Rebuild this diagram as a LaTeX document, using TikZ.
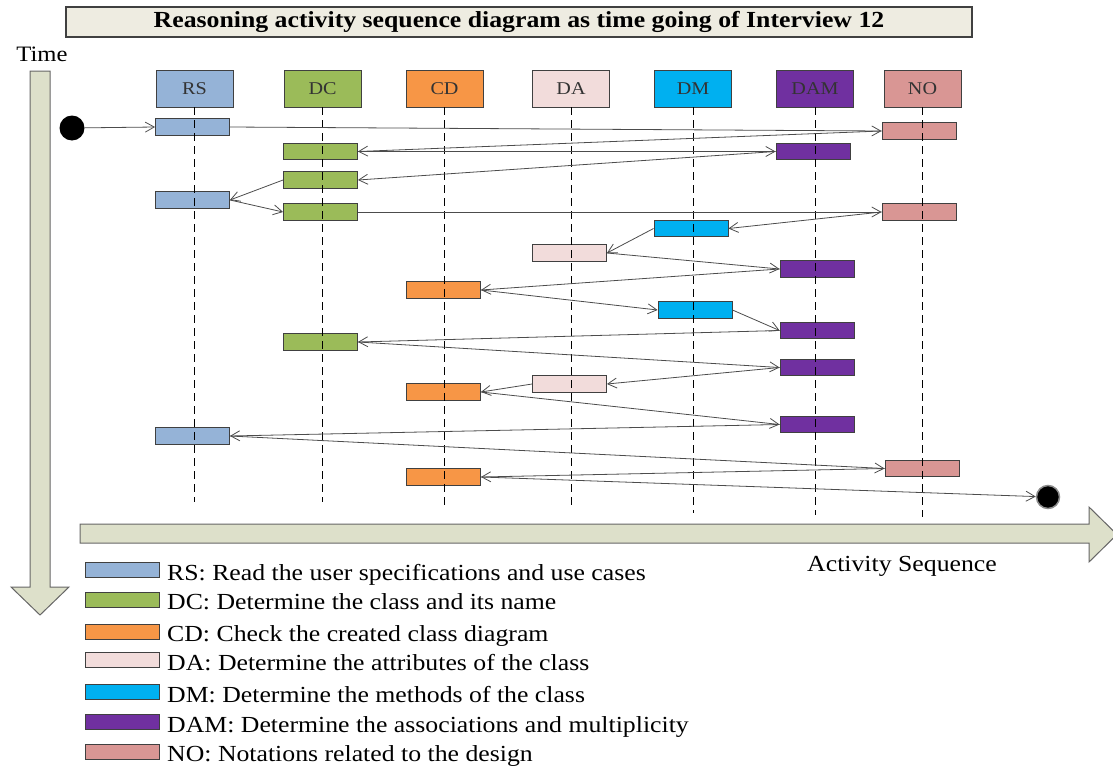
\documentclass[tikz,border=0pt]{standalone}
\usepackage{fontspec}
\setmainfont{Liberation Serif}[FakeStretch=1.12]
\usetikzlibrary{arrows.meta}

\definecolor{rscol}{HTML}{95B3D7}
\definecolor{dccol}{HTML}{9BBB59}
\definecolor{cdcol}{HTML}{F79646}
\definecolor{dacol}{HTML}{F2DCDB}
\definecolor{dmcol}{HTML}{00B0F0}
\definecolor{damcol}{HTML}{7030A0}
\definecolor{nocol}{HTML}{D99694}
\definecolor{titlefill}{HTML}{EEECE1}
\definecolor{bandfill}{HTML}{DDE0CA}
\definecolor{edge}{HTML}{404040}

\tikzset{
  head/.style={draw=edge, line width=0.9pt, minimum width=77pt, minimum height=37pt,
    inner sep=0pt, font=\fontsize{18}{20}\selectfont, text=black!80},
  act/.style={draw=edge, line width=0.9pt, minimum width=74pt, minimum height=16.5pt, inner sep=0pt},
  lifeline/.style={black, line width=0.8pt, dash pattern=on 8pt off 5pt},
  msg/.style={black!70, line width=0.8pt, -{Straight Barb[length=9pt,width=10pt,line width=0.8pt]}},
  band/.style={draw=black!60, line width=1pt, fill=bandfill},
  swatch/.style={draw=edge, line width=0.9pt, minimum width=74pt, minimum height=15pt, inner sep=0pt},
  keytext/.style={anchor=base west, inner sep=0pt, font=\fontsize{23}{26}\selectfont}
}

\begin{document}
\begin{tikzpicture}[x=1pt, y=-1pt]
  \useasboundingbox (0,0) rectangle (1113,776);

  % Title
  \node[draw=edge, line width=1.2pt, fill=titlefill, minimum width=906pt, minimum height=30pt,
    inner sep=0pt, font=\fontsize{23}{26}\selectfont\bfseries] (title) at (519,22)
    {Reasoning activity sequence diagram as time going of Interview 12};

  % Time and sequence bands
  \draw[band] (30,71) -- (50,71) -- (50,587) -- (69,587) -- (40,615) -- (11,587) -- (30,587) -- cycle;
  \draw[band] (80,524) -- (1089,524) -- (1089,507) -- (1117,534.5) -- (1089,562) -- (1089,543) -- (80,543) -- cycle;
  \node[font=\fontsize{22}{24}\selectfont, inner sep=0pt, anchor=base] (timelbl) at (42,62) {Time};
  \node[font=\fontsize{23}{26}\selectfont, inner sep=0pt, anchor=base] (seqlbl) at (902,571) {Activity Sequence};

  % Activity headers
  \foreach \n/\lbl/\x in {rs/RS/194.5, dc/DC/322.5, cd/CD/444.5, da/DA/571, dm/DM/693, dam/DAM/815, no/NO/922.5}
    \node[head, fill=\n col] (h\n) at (\x,88.5) {\lbl};

  % Activation boxes, top to bottom
  \node[act, fill=rscol] (rs1) at (192.5,127) {};
  \node[act, fill=nocol] (no1) at (919,131) {};
  \node[act, fill=dccol] (dc1) at (320.5,151.5) {};
  \node[act, fill=damcol] (dam1) at (813,151.5) {};
  \node[act, fill=dccol] (dc2) at (320.5,180) {};
  \node[act, fill=rscol] (rs2) at (192.5,200) {};
  \node[act, fill=dccol] (dc3) at (320.5,212) {};
  \node[act, fill=nocol] (no2) at (919,212) {};
  \node[act, fill=dmcol] (dm1) at (691,228.5) {};
  \node[act, fill=dacol] (da1) at (569.5,253) {};
  \node[act, fill=damcol] (dam2) at (817,269) {};
  \node[act, fill=cdcol] (cd1) at (443.5,290) {};
  \node[act, fill=dmcol] (dm2) at (695,310) {};
  \node[act, fill=damcol] (dam3) at (817,330.5) {};
  \node[act, fill=dccol] (dc4) at (320.5,342) {};
  \node[act, fill=damcol] (dam4) at (817,367.5) {};
  \node[act, fill=dacol] (da2) at (569.5,384) {};
  \node[act, fill=cdcol] (cd2) at (443.5,392) {};
  \node[act, fill=damcol] (dam5) at (817,424.5) {};
  \node[act, fill=rscol] (rs3) at (192.5,436) {};
  \node[act, fill=nocol] (no3) at (922,468.5) {};
  \node[act, fill=cdcol] (cd3) at (443.5,477) {};

  % Start and end
  \node[circle, fill=black, minimum size=25pt, inner sep=0pt] (start) at (72,128) {};
  \node[circle, fill=black, draw=black!45, line width=1.5pt, minimum size=23pt, inner sep=0pt] (finish) at (1048,497) {};

  % Lifelines
  \foreach \n/\bot in {rs/502, dc/502, cd/505, da/507, dm/513, dam/515, no/517}
    \draw[lifeline] (h\n.south) -- (h\n.south |- 0,\bot);

  % Messages
  \foreach \a/\b in {start/rs1.west, rs1.east/no1.west, no1.west/dc1.east, dc1.east/dam1.west,
      dam1.west/dc2.east, dc2.west/rs2.east, rs2.east/dc3.west, dc3.east/no2.west,
      no2.west/dm1.east, dm1.west/da1.east, da1.east/dam2.west, dam2.west/cd1.east,
      cd1.east/dm2.west, dm2.east/dam3.west, dam3.west/dc4.east, dc4.east/dam4.west,
      dam4.west/da2.east, da2.west/cd2.east, cd2.east/dam5.west, dam5.west/rs3.east,
      rs3.east/no3.west, no3.west/cd3.east, cd3.east/finish}
    \draw[msg] (\a) -- (\b);

  % Legend
  \foreach \n/\txt/\y in {rs/RS: Read the user specifications and use cases/570,
      dc/DC: Determine the class and its name/599.5,
      cd/CD: Check the created class diagram/631.5,
      da/DA: Determine the attributes of the class/660,
      dm/DM: Determine the methods of the class/692,
      dam/DAM: Determine the associations and multiplicity/722,
      no/NO: Notations related to the design/751.5} {
    \node[swatch, fill=\n col] (key\n) at (122,\y) {};
    \node[keytext] (lbl\n) at (167,\y+10) {\txt};
  }
\end{tikzpicture}
\end{document}
